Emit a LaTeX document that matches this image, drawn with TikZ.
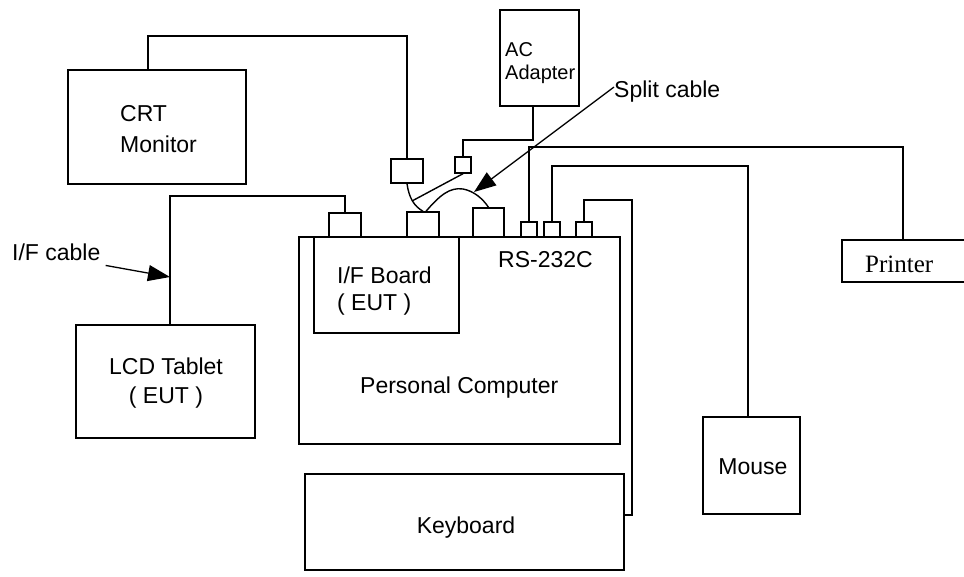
\documentclass[tikz,border=0pt]{standalone}
\usepackage{fontspec}
\setmainfont{Liberation Sans}
\newfontfamily\serifp{Liberation Serif}
\usetikzlibrary{arrows.meta}
\begin{document}
\begin{tikzpicture}[x=1pt,y=-1pt,
  dbox/.style={draw, line width=1.4pt, inner sep=0pt},
  lbl/.style={inner sep=0pt, font=\fontsize{23}{31}\selectfont},
  cable/.style={line width=1.4pt},
  arr/.style={line width=1.3pt, -{Triangle[length=22pt,width=16pt]}}]
\useasboundingbox (0,0) rectangle (964,576);
\clip (0,0) rectangle (964,576);
% main boxes
\node[dbox, minimum width=178pt, minimum height=114pt] (crt) at (157,127) {};
\node[dbox, minimum width=79pt, minimum height=96pt] (ac) at (539.5,58) {};
\node[dbox, minimum width=179pt, minimum height=113pt] (lcd) at (165.5,381.5) {};
\node[dbox, minimum width=321pt, minimum height=207pt] (pc) at (459.5,340.5) {};
\node[dbox, minimum width=145pt, minimum height=96pt] (ifb) at (386.5,285) {};
\node[dbox, minimum width=319pt, minimum height=96pt] (kb) at (464.5,522) {};
\node[dbox, minimum width=97pt, minimum height=97pt] (mouse) at (751.5,465.5) {};
\node[dbox, minimum width=140pt, minimum height=42pt] (printer) at (912,261) {};
% connector boxes
\node[dbox, minimum width=32pt, minimum height=24pt] (crtport) at (407,171) {};
\node[dbox, minimum width=16pt, minimum height=16pt] (acport) at (463,165) {};
\node[dbox, minimum width=32pt, minimum height=24pt] (portA) at (345,225) {};
\node[dbox, minimum width=32pt, minimum height=25pt] (portB) at (423,224.5) {};
\node[dbox, minimum width=31pt, minimum height=29pt] (portC) at (488.5,222.5) {};
\node[dbox, minimum width=16pt, minimum height=15pt] (portD) at (529,229.5) {};
\node[dbox, minimum width=16pt, minimum height=15pt] (portE) at (552,229.5) {};
\node[dbox, minimum width=16pt, minimum height=15pt] (portF) at (584,229.5) {};
% labels
\node[lbl, align=left, anchor=north west] (crtT) at (120,105.5) {CRT\\Monitor};
\node[inner sep=0pt, font=\fontsize{20}{23}\selectfont, align=left, anchor=north west] (acT) at (505,42.6) {AC\\Adapter};
\node[lbl, font=\fontsize{23}{29}\selectfont, align=center, anchor=north] (lcdT) at (166,357.5) {LCD Tablet\\( EUT )};
\node[lbl, font=\fontsize{23}{27}\selectfont, align=left, anchor=north west] (ifbT) at (337,266.5) {I/F Board\\( EUT )};
\node[lbl, anchor=base west] (pcT) at (360,393) {Personal Computer};
\node[lbl, anchor=base west] (rsT) at (498,267) {RS-232C};
\node[lbl, anchor=base] (kbT) at (466,533) {Keyboard};
\node[lbl, anchor=base] (mouseT) at (753,474) {Mouse};
\node[inner sep=0pt, font=\serifp\fontsize{25}{30}\selectfont, anchor=base west] (printerT) at (865,272) {Printer};
\node[lbl, anchor=base west] (splitT) at (614,97) {Split cable};
\node[lbl, anchor=base west] (ifcT) at (12,260) {I/F cable};
% bend coordinates
\coordinate (crtbend) at (148,36);
\coordinate (acbend) at (533,140);
\coordinate (lcdbend) at (170,196);
\coordinate (prbend) at (903,147);
\coordinate (msbend) at (748,166);
\coordinate (kbbend) at (632,200);
\coordinate (kbin) at (624,515);
\coordinate (splitj) at (412,201);
\coordinate (archtop) at (463,189);
\coordinate (splittip) at (474,192);
\coordinate (ifctip) at (170,277);
% cables
\draw[cable] (crt.north -| crtbend) -- (crtbend) -| (crtport.north);
\draw[cable] (ac.south -| acbend) -- (acbend) -| (acport.north);
\draw[cable] (lcd.north -| lcdbend) -- (lcdbend) -| (portA.north);
\draw[cable] (portD.north) |- (prbend) -- (printer.north -| prbend);
\draw[cable] (portE.north) |- (msbend) -- (mouse.north -| msbend);
\draw[cable] (portF.north) |- (kbbend) |- (kbin);
% split cable
\draw[cable] (crtport.south) .. controls (409,198) and (414,206) .. (portB.north);
\draw[cable] (acport.south) -- (splitj);
\draw[cable] ([xshift=3pt]portB.north) .. controls (440,195) and (450,187) .. (archtop)
  .. controls (474,191) and (483,199) .. (portC.north);
% label arrows
\draw[arr] ([yshift=4pt]splitT.west) -- (splittip);
\draw[arr] ([shift={(5pt,-5pt)}]ifcT.south east) -- (ifctip);
\end{tikzpicture}
\end{document}
